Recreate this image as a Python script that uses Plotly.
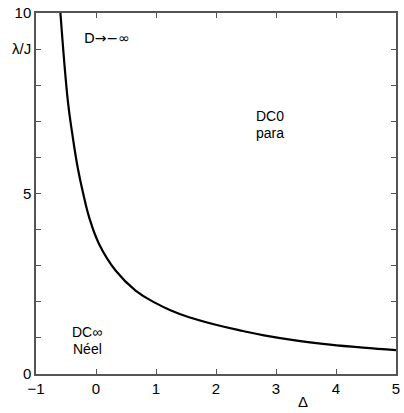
import plotly.graph_objects as go

# boundary curve
delta = [-0.593, -0.467, -0.395, -0.303, -0.22, -0.11, 0.055, 0.33, 0.66, 0.989, 1.25, 1.538, 2.03, 2.45, 2.80, 3.35, 3.90, 4.45, 5.0]
lam = [10.0, 7.53, 6.65, 5.70, 5.05, 4.32, 3.59, 2.86, 2.31, 1.97, 1.76, 1.58, 1.35, 1.19, 1.07, 0.925, 0.815, 0.73, 0.66]

ytickvals = [0, 1, 2, 3, 4, 5, 6, 7, 8, 9, 10]
yticktext = ["0", "", "", "", "", "5", "", "", "", "λ/J", "10"]
xtickvals = [-1, 0, 1, 2, 3, 4, 5]
xticktext = ["−1", "0", "1", "2", "3", "4", "5"]

labels = [
    {"x": 0.18, "y": 9.3, "text": "D→−∞"},
    {"x": 2.9, "y": 7.15, "text": "DC0"},
    {"x": 2.9, "y": 6.68, "text": "para"},
    {"x": -0.15, "y": 1.17, "text": "DC∞"},
    {"x": -0.15, "y": 0.68, "text": "Néel"},
]
axis_title = {"x": 3.45, "text": "Δ"}

FONT = "Liberation Sans, Arial, sans-serif"

fig = go.Figure()
fig.add_trace(go.Scatter(x=delta, y=lam, mode="lines",
                         line=dict(color="black", width=2.2, shape="spline", smoothing=1.2),
                         hoverinfo="skip", showlegend=False))

for a in labels:
    fam = "DejaVu Sans, sans-serif" if "→" in a["text"] else FONT
    fig.add_annotation(x=a["x"], y=a["y"], xref="x", yref="y", text=a["text"],
                       showarrow=False, font=dict(family=fam, size=14, color="black"))

fig.add_annotation(x=axis_title["x"], y=-0.075, xref="x", yref="paper",
                   text=axis_title["text"], showarrow=False, yanchor="middle",
                   font=dict(family=FONT, size=15, color="black"))

axis_common = dict(showgrid=False, zeroline=False, showline=True, linecolor="#555",
                   linewidth=1.5, ticks="inside", ticklen=5, tickcolor="#555", tickwidth=1.2,
                   mirror="ticks", tickfont=dict(family=FONT, size=15, color="black"))

fig.update_xaxes(range=[-1, 5], tickvals=xtickvals, ticktext=xticktext, **axis_common)
fig.update_yaxes(range=[0, 10], tickvals=ytickvals, ticktext=yticktext, **axis_common)

fig.update_layout(width=404, height=413, margin=dict(l=36, r=4, t=10, b=39),
                  paper_bgcolor="white", plot_bgcolor="white", showlegend=False)

fig.write_html("out.html")
